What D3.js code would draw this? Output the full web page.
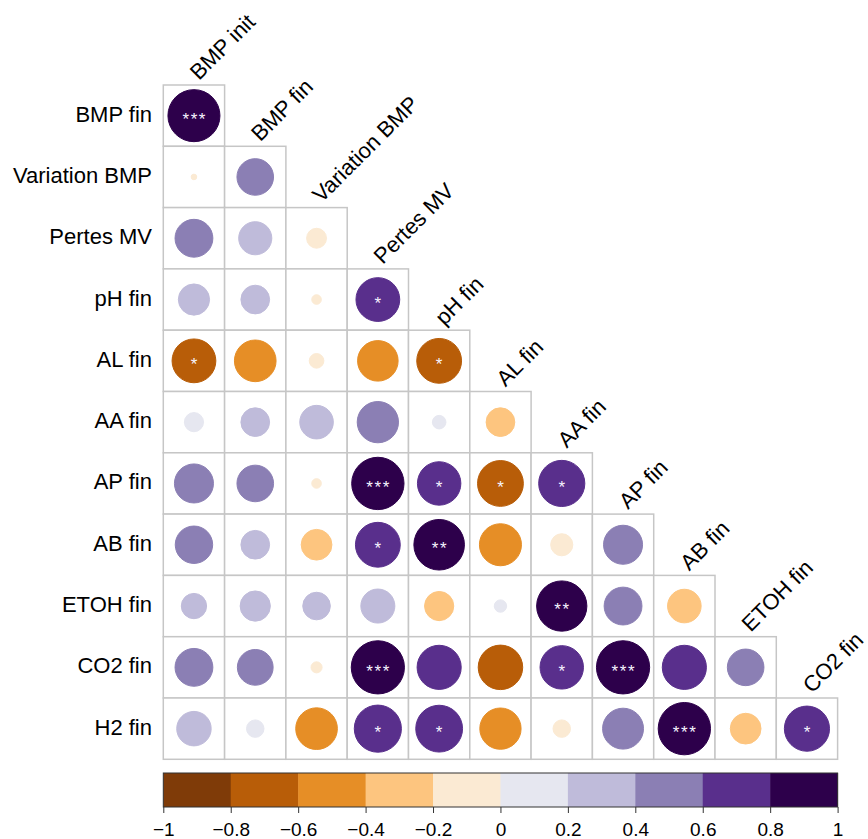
<!DOCTYPE html>
<html>
<head>
<meta charset="utf-8">
<script src="https://cdn.jsdelivr.net/npm/d3@7"></script>
<style>
  html, body { margin: 0; padding: 0; background: #ffffff; }
  svg { display: block; font-family: "Liberation Sans", Arial, sans-serif; }
</style>
</head>
<body>
<svg id="chart" width="868" height="839"></svg>
<script>
// Variables along the columns (top, rotated) and rows (left)
const colVars = ["BMP init", "BMP fin", "Variation BMP", "Pertes MV", "pH fin", "AL fin",
                 "AA fin", "AP fin", "AB fin", "ETOH fin", "CO2 fin"];
const rowVars = ["BMP fin", "Variation BMP", "Pertes MV", "pH fin", "AL fin", "AA fin",
                 "AP fin", "AB fin", "ETOH fin", "CO2 fin", "H2 fin"];

// Pearson correlations, lower triangle, one array per row variable
const corrBMPfin    = [0.89];
const corrVarBMP    = [-0.01, 0.44];
const corrPertesMV  = [0.47, 0.36, -0.13];
const corrPHfin     = [0.32, 0.27, -0.03, 0.63];
const corrALfin     = [-0.63, -0.57, -0.07, -0.54, -0.66];
const corrAAfin     = [0.12, 0.27, 0.37, 0.56, 0.06, -0.27];
const corrAPfin     = [0.50, 0.44, -0.03, 0.90, 0.62, -0.69, 0.70];
const corrABfin     = [0.46, 0.27, -0.31, 0.66, 0.84, -0.58, -0.16, 0.50];
const corrETOHfin   = [0.21, 0.30, 0.25, 0.38, -0.28, 0.05, 0.83, 0.47, -0.37];
const corrCO2fin    = [0.47, 0.42, -0.04, 0.93, 0.64, -0.65, 0.62, 0.93, 0.64, 0.44];
const corrH2fin     = [0.39, 0.10, -0.57, 0.73, 0.72, -0.56, -0.10, 0.55, 0.90, -0.31, 0.67];

// Significance marks (p < 0.05 *, < 0.01 **, < 0.001 ***)
const sigBMPfin    = ["***"];
const sigVarBMP    = ["", ""];
const sigPertesMV  = ["", "", ""];
const sigPHfin     = ["", "", "", "*"];
const sigALfin     = ["*", "", "", "", "*"];
const sigAAfin     = ["", "", "", "", "", ""];
const sigAPfin     = ["", "", "", "***", "*", "*", "*"];
const sigABfin     = ["", "", "", "*", "**", "", "", ""];
const sigETOHfin   = ["", "", "", "", "", "", "**", "", ""];
const sigCO2fin    = ["", "", "", "***", "", "", "*", "***", "", ""];
const sigH2fin     = ["", "", "", "*", "*", "", "", "", "***", "", "*"];

// Diverging PuOr palette in 10 classes, and colour-bar tick values
const binColors = ["#7F3B08", "#B85D08", "#E68E26", "#FDC57F", "#FBEAD3",
                   "#E6E7F0", "#BFBBDA", "#8B7FB4", "#592F8C", "#2D004B"];
const legendTicks = [-1, -0.8, -0.6, -0.4, -0.2, 0, 0.2, 0.4, 0.6, 0.8, 1];
const legendLabels = ["\u22121", "\u22120.8", "\u22120.6", "\u22120.4", "\u22120.2", "0",
                      "0.2", "0.4", "0.6", "0.8", "1"];

const corrRows = [corrBMPfin, corrVarBMP, corrPertesMV, corrPHfin, corrALfin, corrAAfin,
                  corrAPfin, corrABfin, corrETOHfin, corrCO2fin, corrH2fin];
const sigRows = [sigBMPfin, sigVarBMP, sigPertesMV, sigPHfin, sigALfin, sigAAfin,
                 sigAPfin, sigABfin, sigETOHfin, sigCO2fin, sigH2fin];

const cells = [];
corrRows.forEach((vals, i) => {
  vals.forEach((v, j) => {
    cells.push({ row: rowVars[i], col: colVars[j], value: v, sig: sigRows[i][j] || "" });
  });
});

const svg = d3.select("#chart");

const x = d3.scaleBand().domain(colVars).range([163.3, 837.6]);
const y = d3.scaleBand().domain(rowVars).range([85, 759.3]);
const bw = x.bandwidth();
const color = d3.scaleQuantize().domain([-1, 1]).range(binColors);

// Grid of cells
svg.append("g")
  .selectAll("rect")
  .data(cells)
  .join("rect")
  .attr("x", d => x(d.col))
  .attr("y", d => y(d.row))
  .attr("width", bw)
  .attr("height", y.bandwidth())
  .attr("fill", "#ffffff")
  .attr("stroke", "#c6c6c6")
  .attr("stroke-width", 1.5);

// Circles: area proportional to |r|
svg.append("g")
  .selectAll("circle")
  .data(cells)
  .join("circle")
  .attr("cx", d => x(d.col) + bw / 2)
  .attr("cy", d => y(d.row) + y.bandwidth() / 2)
  .attr("r", d => 0.45 * bw * Math.sqrt(Math.abs(d.value)))
  .attr("fill", d => color(d.value))
  .attr("stroke", d => color(d.value))
  .attr("stroke-width", 1);

// Significance stars
const starSize = 17, starGap = 1.6;
svg.append("g")
  .selectAll("text")
  .data(cells.filter(d => d.sig))
  .join("text")
  .attr("x", d => x(d.col) + bw / 2 + starGap / 2)
  .attr("y", d => y(d.row) + y.bandwidth() / 2 + 0.55 * starSize)
  .attr("text-anchor", "middle")
  .attr("font-size", starSize)
  .attr("letter-spacing", starGap)
  .attr("fill", "#f6f4ff")
  .text(d => d.sig);

// Row labels
svg.append("g")
  .selectAll("text")
  .data(rowVars)
  .join("text")
  .attr("x", 152)
  .attr("y", d => y(d) + y.bandwidth() / 2 + 6)
  .attr("text-anchor", "end")
  .attr("font-size", 22)
  .attr("fill", "#000000")
  .text(d => d);

// Column labels, rotated above the top cell of each column
svg.append("g")
  .selectAll("text")
  .data(colVars)
  .join("text")
  .attr("transform", (d, j) => {
    const tx = x(d) + bw / 2 + 5;
    const ty = y(rowVars[j]) - 4;
    return `translate(${tx},${ty}) rotate(-45)`;
  })
  .attr("font-size", 22)
  .attr("fill", "#000000")
  .text(d => d);

// Colour bar
const lx = d3.scaleLinear().domain([-1, 1]).range([163.3, 837.6]);
const barTop = 773, barH = 34;
const bins = d3.range(binColors.length).map(k => ({ lo: legendTicks[k], hi: legendTicks[k + 1], c: binColors[k] }));

const legend = svg.append("g");
legend.selectAll("rect.bin")
  .data(bins)
  .join("rect")
  .attr("class", "bin")
  .attr("x", d => lx(d.lo))
  .attr("y", barTop)
  .attr("width", d => lx(d.hi) - lx(d.lo) + 0.5)
  .attr("height", barH)
  .attr("fill", d => d.c);

legend.append("rect")
  .attr("x", lx(-1))
  .attr("y", barTop)
  .attr("width", lx(1) - lx(-1))
  .attr("height", barH)
  .attr("fill", "none")
  .attr("stroke", "#333333")
  .attr("stroke-width", 1);

const axis = d3.axisBottom(lx)
  .tickValues(legendTicks)
  .tickFormat((d, i) => legendLabels[i])
  .tickSize(6)
  .tickPadding(10);

const axG = legend.append("g")
  .attr("transform", `translate(0,${barTop + barH})`)
  .call(axis);
axG.select(".domain").remove();
axG.selectAll(".tick line").attr("stroke", "#333333");
axG.selectAll(".tick text")
  .attr("font-size", 19)
  .attr("font-family", "Liberation Sans, Arial, sans-serif")
  .attr("fill", "#000000");
</script>
</body>
</html>
